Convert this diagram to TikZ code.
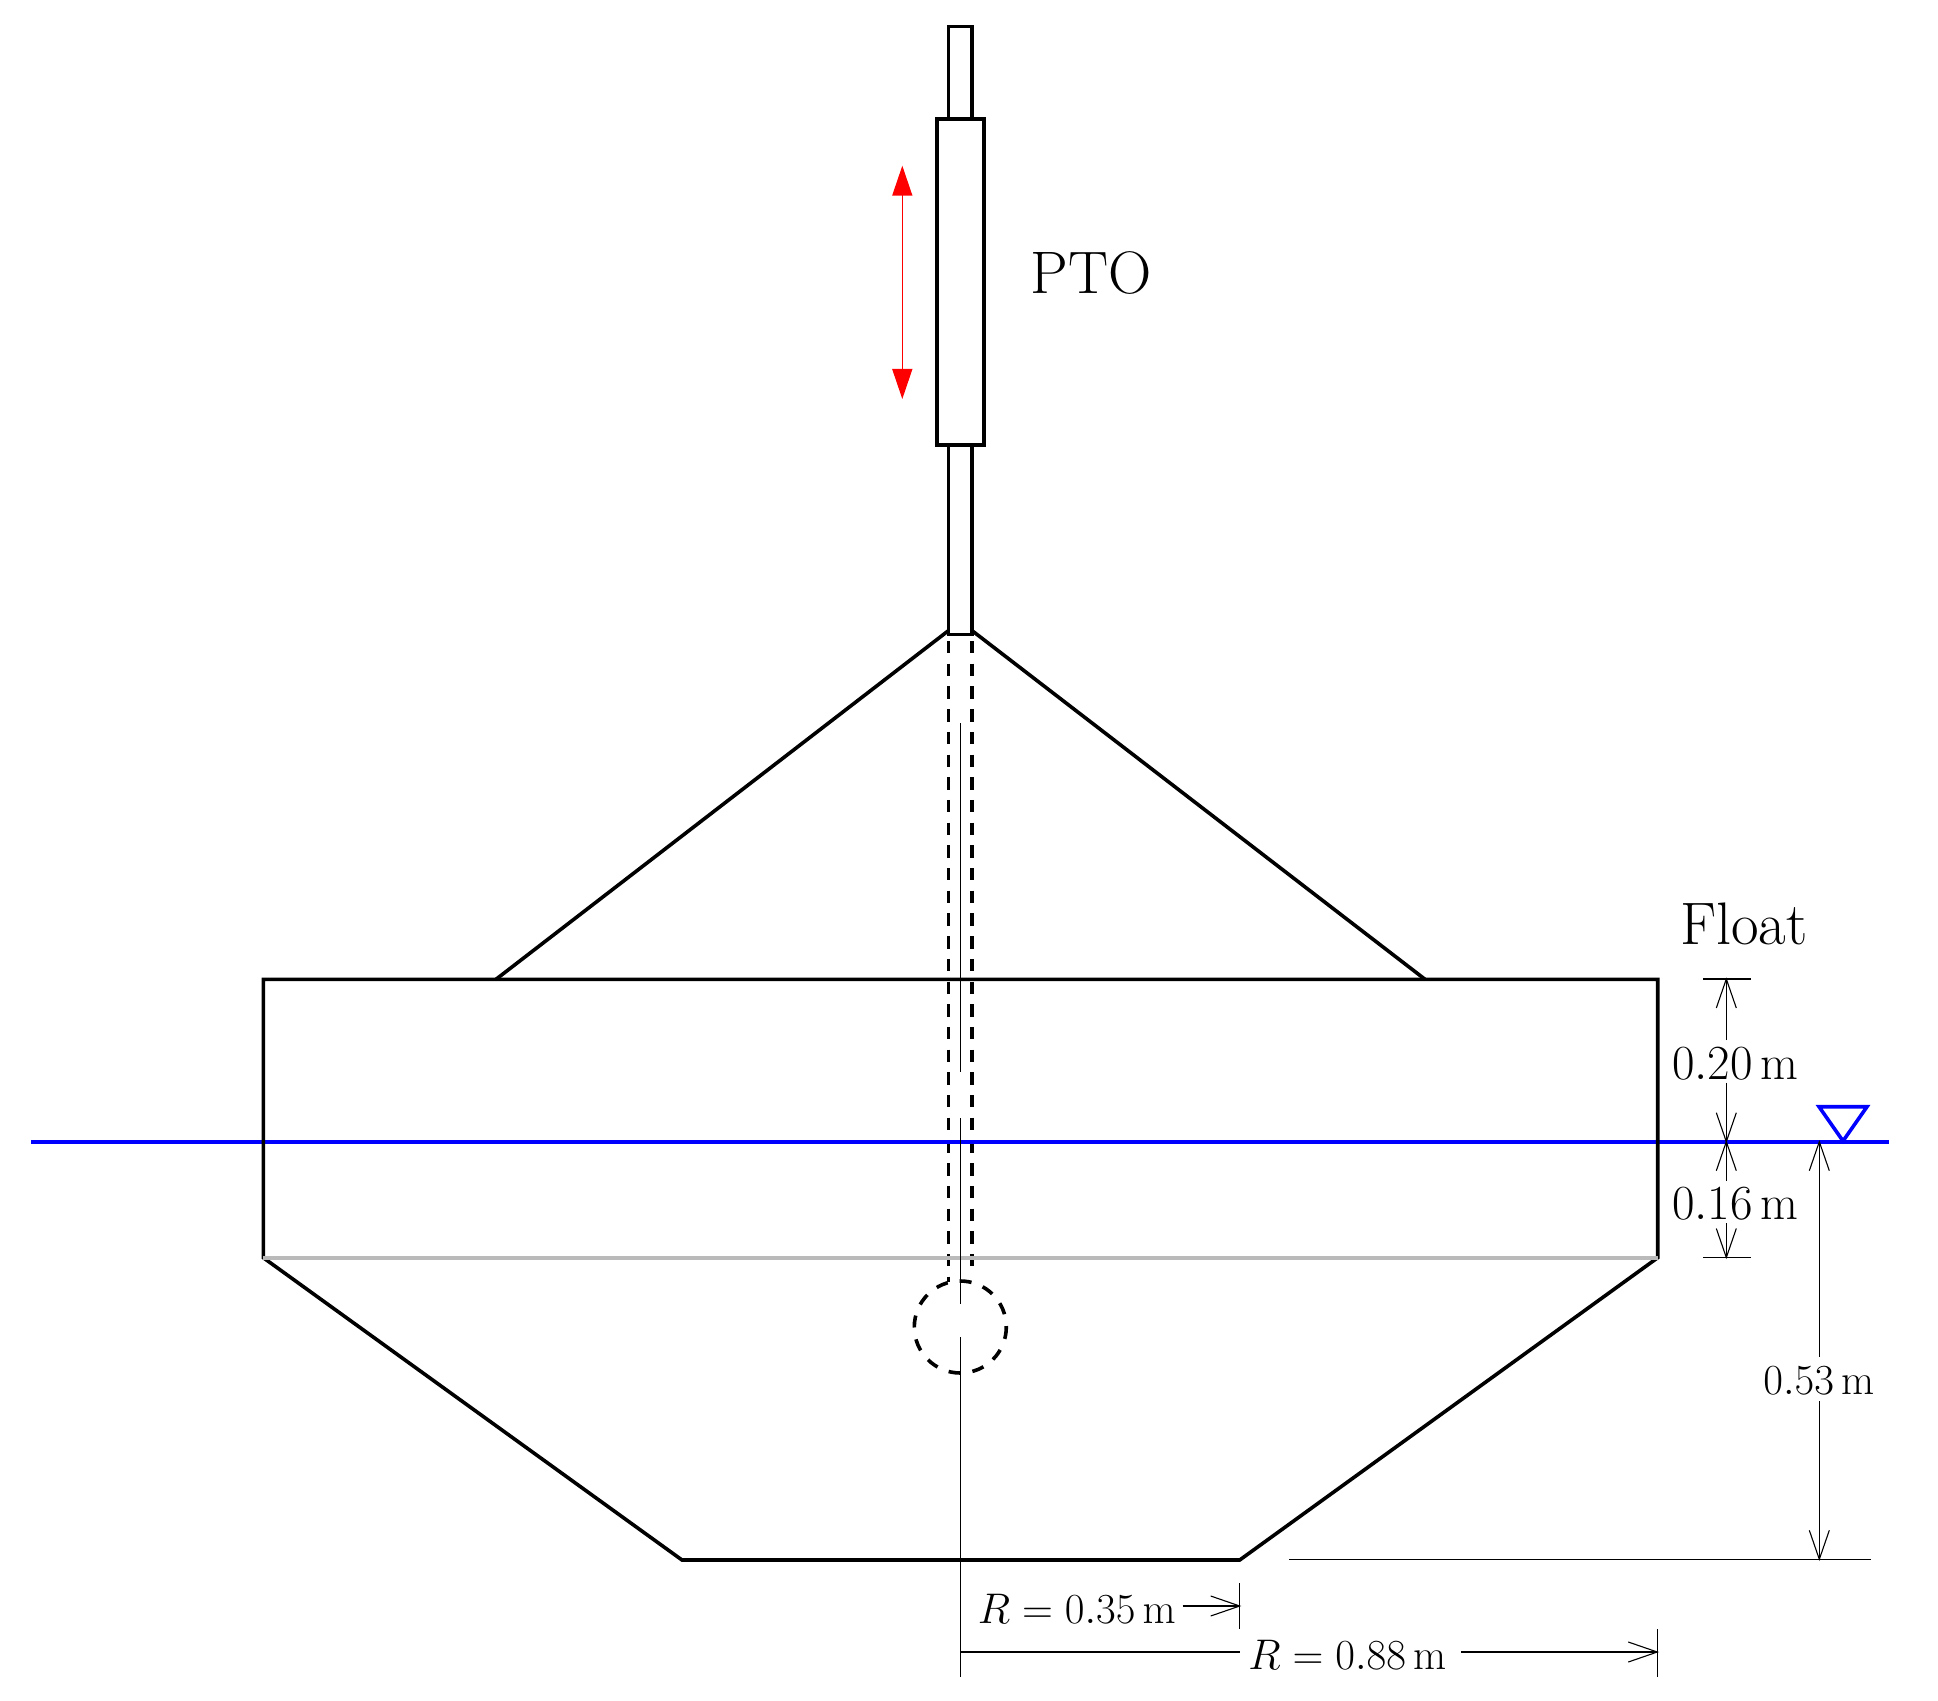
\documentclass[tikz,border=0pt]{standalone}
\usetikzlibrary{arrows.meta}
\pgfdeclarearrow{
  name=OpenVee,
  setup code={\pgfarrowssetlineend{0pt}\pgfarrowssettipend{0pt}\pgfarrowssetbackend{-14.5pt}\pgfarrowssetvisualbackend{-14.5pt}},
  drawing code={\pgfsetdash{}{0pt}\pgfsetlinewidth{0.55pt}\pgfsetmiterjoin
    \pgfpathmoveto{\pgfpoint{-14.5pt}{5pt}}\pgfpathlineto{\pgfpoint{0pt}{0pt}}\pgfpathlineto{\pgfpoint{-14.5pt}{-5pt}}\pgfusepathqstroke}
}
\tikzset{
  thick line/.style={line width=1.8pt,line join=miter,black},
  thin line/.style={line width=0.7pt,black},
  dash line/.style={line width=1.8pt,black,dash pattern=on 6.2pt off 5.15pt},
  water/.style={line width=2pt,blue},
  dimarrow/.style={thin line,-{OpenVee}},
  redarrow/.style={line width=0.7pt,red,{Triangle[length=15pt,width=10pt,fill=red]}-{Triangle[length=15pt,width=10pt,fill=red]}},
  biglabel/.style={anchor=base west,inner sep=0pt,font=\fontsize{30}{34}\selectfont},
  midlabel/.style={anchor=base west,inner sep=0pt,scale=0.985,font=\fontsize{25.7}{30}\selectfont},
  smalllabel/.style={anchor=base west,inner sep=0pt,scale=1.033,font=\fontsize{22}{26}\selectfont}
}
\begin{document}
\begin{tikzpicture}[x=0.5pt,y=-0.5pt]
\useasboundingbox (0,0) rectangle (1938,1701);
% ---------- coordinates
\coordinate (wl) at (31,1142);
\coordinate (wr) at (1889,1142);
\coordinate (tl) at (263.3,979.3);
\coordinate (tr) at (1657.7,979.3);
\coordinate (ml) at (263.3,1257.7);
\coordinate (mr) at (1657.7,1257.7);
\coordinate (bl) at (682,1560);
\coordinate (br) at (1239.7,1560);
\coordinate (rodtl) at (948.3,26.7);
\coordinate (rodtr) at (971.7,119.3);
\coordinate (hl) at (937,119.3);
\coordinate (hr) at (983.7,445);
\coordinate (rodbl) at (948.3,445);
\coordinate (rodbr) at (972,634.3);
\coordinate (conel) at (948,631);
\coordinate (coner) at (972.5,631);
\coordinate (conebl) at (496,979.3);
\coordinate (conebr) at (1425,979.3);
\coordinate (dl0) at (948.3,641);
\coordinate (dl1) at (948.3,1281.7);
\coordinate (dr0) at (972,641);
\coordinate (dr1) at (972,1270);
\coordinate (hinge) at (960.3,1327);
% ---------- labels
\node[biglabel] (pto) at (1030.2,293.3) {PTO};
\node[biglabel] (float) at (1679.8,944.3) {Float};
\node[midlabel] (h20) at (1671.6,1079) {$0.20\,\mathrm{m}$};
\node[midlabel] (h16) at (1671.6,1219) {$0.16\,\mathrm{m}$};
\node[smalllabel] (h53) at (1763,1394.3) {$0.53\,\mathrm{m}$};
\node[smalllabel] (r35) at (977.5,1623) {$R=0.35\,\mathrm{m}$};
\node[smalllabel] (r88) at (1248,1669) {$R=0.88\,\mathrm{m}$};
% ---------- PTO
\draw[thick line] (rodtl) rectangle (rodtr);
\draw[thick line] (hl) rectangle (hr);
\draw[thick line] (rodbl) rectangle (rodbr);
\coordinate (ra) at (902.3,165.7);
\coordinate (rb) at (902.3,399);
\draw[redarrow] (ra) -- (rb);
% ---------- internal rod and hinge
\draw[dash line] (dl0) -- (dl1);
\draw[dash line] (dr0) -- (dr1);
\draw[line width=1.8pt,black,dash pattern=on 6pt off 6pt] (hinge) ++(46,0) arc[start angle=0,end angle=360,radius=46];
% ---------- water
\draw[water] (wl) -- (wr);
\coordinate (w1) at (1819,1106.7);
\coordinate (w2) at (1867,1106.7);
\coordinate (w3) at (1843,1141);
\draw[line width=1.8pt,blue] (w1) -- (w2) -- (w3) -- cycle;
% ---------- float
\draw[thick line] (conel) -- (conebl);
\draw[thick line] (coner) -- (conebr);
\draw[thick line] (tl) -- (ml) -- (bl) -- (br) -- (mr) -- (tr) -- cycle;
\draw[line width=1.9pt,black!27] (ml) -- (mr);
% ---------- centre line
\coordinate (c0) at (960.3,723);
\coordinate (c1) at (960.3,1072);
\coordinate (c2) at (960.3,1118);
\coordinate (c3) at (960.3,1304);
\coordinate (c4) at (960.3,1337);
\coordinate (c5) at (960.3,1677);
\draw[thin line] (c0) -- (c1);
\draw[thin line] (c2) -- (c3);
\draw[thin line] (c4) -- (c5);
% ---------- right dimensions
\coordinate (t1a) at (1703,979);
\coordinate (t1b) at (1750.7,979);
\coordinate (t2a) at (1703,1257.5);
\coordinate (t2b) at (1750.7,1257.5);
\draw[thin line] (t1a) -- (t1b);
\draw[thin line] (t2a) -- (t2b);
\coordinate (d0) at (1726.3,979);
\coordinate (d1) at (1726.3,1040);
\coordinate (d2) at (1726.3,1082.7);
\coordinate (d3) at (1726.3,1141.7);
\coordinate (d4) at (1726.3,1181);
\coordinate (d5) at (1726.3,1223);
\coordinate (d6) at (1726.3,1257.5);
\draw[dimarrow] (d1) -- (d0);
\draw[dimarrow] (d2) -- (d3);
\draw[dimarrow] (d4) -- (d3);
\draw[dimarrow] (d5) -- (d6);
\coordinate (e0) at (1819.3,1141.7);
\coordinate (e1) at (1819.3,1356.7);
\coordinate (e2) at (1819.3,1401);
\coordinate (e3) at (1819.3,1559.3);
\draw[dimarrow] (e1) -- (e0);
\draw[dimarrow] (e2) -- (e3);
\coordinate (f0) at (1289,1559.3);
\coordinate (f1) at (1870.7,1559.3);
\draw[thin line] (f0) -- (f1);
% ---------- bottom dimensions
\coordinate (g0) at (1239.7,1583);
\coordinate (g1) at (1239.7,1629);
\draw[thin line] (g0) -- (g1);
\coordinate (g2) at (1182.5,1606);
\coordinate (g3) at (1239.7,1606);
\draw[dimarrow] (g2) -- (g3);
\coordinate (k0) at (960.3,1652);
\coordinate (k1) at (1239.7,1652);
\coordinate (k2) at (1461,1652);
\coordinate (k3) at (1657.3,1652);
\draw[thin line] (k0) -- (k1);
\draw[dimarrow] (k2) -- (k3);
\coordinate (m0) at (1657.3,1629);
\coordinate (m1) at (1657.3,1677);
\draw[thin line] (m0) -- (m1);
\end{tikzpicture}
\end{document}
